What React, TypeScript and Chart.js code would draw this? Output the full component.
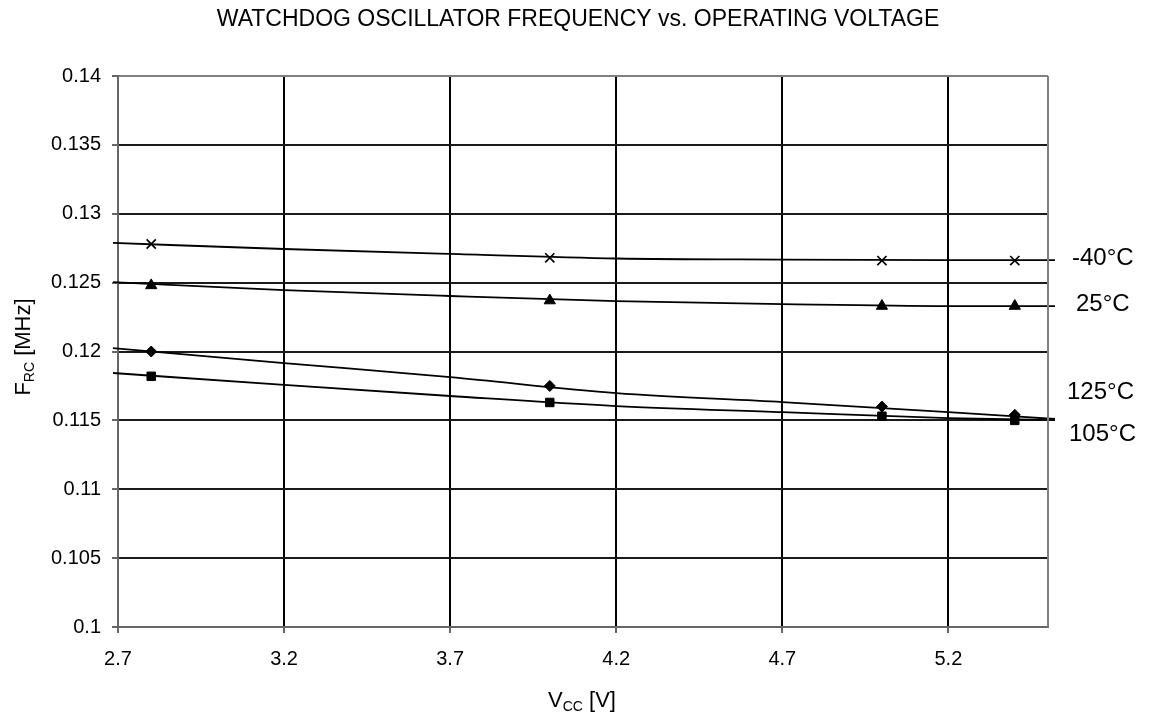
import React, { useEffect, useRef } from "react";
import { Chart, registerables } from "chart.js";

Chart.register(...registerables);

const titleText = "WATCHDOG OSCILLATOR FREQUENCY vs. OPERATING VOLTAGE";
const seriesNames = ["-40°C", "25°C", "125°C", "105°C"];

const xValues = [2.8, 4.0, 5.0, 5.4];
const fM40 = [0.1278, 0.1268, 0.1266, 0.1266];
const f25 = [0.1248, 0.1237, 0.1233, 0.1233];
const f125 = [0.12, 0.1175, 0.116, 0.1154];
const f105 = [0.1182, 0.1163, 0.1153, 0.115];

const trendX = [2.685, 3.2, 3.7, 4.2, 4.7, 5.2, 5.521];
const trendM40 = [0.12788, 0.12744, 0.12708, 0.12675, 0.12667, 0.12664, 0.12664];
const trend25 = [0.12504, 0.12446, 0.12403, 0.12366, 0.12344, 0.1233, 0.1233];
const trend125 = [0.12025, 0.11916, 0.11814, 0.11698, 0.11633, 0.1156, 0.1151];
const trend105 = [0.11844, 0.11757, 0.11677, 0.11604, 0.1156, 0.11517, 0.11502];

const xTicks = [2.7, 3.2, 3.7, 4.2, 4.7, 5.2];
const xTickLabels = ["2.7", "3.2", "3.7", "4.2", "4.7", "5.2"];
const yTicks = [0.1, 0.105, 0.11, 0.115, 0.12, 0.125, 0.13, 0.135, 0.14];
const yTickLabels = ["0.1", "0.105", "0.11", "0.115", "0.12", "0.125", "0.13", "0.135", "0.14"];

const FONT = "'Liberation Sans', Arial, Helvetica, sans-serif";

const toPts = (xs: number[], ys: number[]) => xs.map((x, i) => ({ x, y: ys[i] }));

const labelPos = [
  { x: 1072, y: 258 },
  { x: 1076, y: 304 },
  { x: 1067, y: 392 },
  { x: 1069, y: 434 },
];

const textPlugin = {
  id: "textPlugin",
  afterDraw(chart: any) {
    const ctx = chart.ctx as CanvasRenderingContext2D;
    const area = chart.chartArea;
    ctx.save();
    ctx.strokeStyle = "#808080";
    ctx.lineWidth = 2;
    ctx.beginPath();
    ctx.moveTo(area.right, area.top);
    ctx.lineTo(area.right, area.bottom);
    ctx.stroke();

    ctx.fillStyle = "#000";
    ctx.textBaseline = "middle";
    ctx.font = `23px ${FONT}`;
    ctx.textAlign = "center";
    ctx.fillText(titleText, 578, 20);

    ctx.font = `24px ${FONT}`;
    ctx.textAlign = "left";
    seriesNames.forEach((n, i) => ctx.fillText(n, labelPos[i].x, labelPos[i].y));

    const drawSub = (main: string, sub: string, rest: string, cx: number, cy: number) => {
      ctx.textAlign = "left";
      ctx.font = `22px ${FONT}`;
      const w1 = ctx.measureText(main).width;
      const w3 = ctx.measureText(rest).width;
      ctx.font = `14px ${FONT}`;
      const w2 = ctx.measureText(sub).width;
      const total = w1 + w2 + w3;
      let x = cx - total / 2;
      ctx.font = `22px ${FONT}`;
      ctx.fillText(main, x, cy);
      x += w1;
      ctx.font = `14px ${FONT}`;
      ctx.fillText(sub, x, cy + 6);
      x += w2;
      ctx.font = `22px ${FONT}`;
      ctx.fillText(rest, x, cy);
    };
    drawSub("V", "CC", " [V]", 582, 701);

    ctx.save();
    ctx.translate(24, 347);
    ctx.rotate(-Math.PI / 2);
    drawSub("F", "RC", " [MHz]", 0, 0);
    ctx.restore();

    ctx.restore();
  },
};

export default function App() {
  const ref = useRef<HTMLCanvasElement | null>(null);
  useEffect(() => {
    if (!ref.current) return;
    const markerBase = {
      showLine: false,
      borderColor: "#000",
      backgroundColor: "#000",
      pointBackgroundColor: "#000",
      pointBorderColor: "#000",
    };
    const trendBase = {
      showLine: true,
      borderColor: "#000",
      borderWidth: 1.8,
      pointRadius: 0,
      cubicInterpolationMode: "monotone" as const,
      clip: false as any,
    };
    const chart = new Chart(ref.current, {
      type: "scatter",
      data: {
        datasets: [
          { ...trendBase, label: "t-40", data: toPts(trendX, trendM40) },
          { ...trendBase, label: "t25", data: toPts(trendX, trend25) },
          { ...trendBase, label: "t125", data: toPts(trendX, trend125) },
          { ...trendBase, label: "t105", data: toPts(trendX, trend105) },
          { ...markerBase, label: seriesNames[0], data: toPts(xValues, fM40), pointStyle: "crossRot", pointRadius: 6.5, pointBorderWidth: 1.7 },
          { ...markerBase, label: seriesNames[1], data: toPts(xValues, f25), pointStyle: "triangle", pointRadius: 6.5, pointBorderWidth: 1 },
          { ...markerBase, label: seriesNames[2], data: toPts(xValues, f125), pointStyle: "rectRot", pointRadius: 5.5, pointBorderWidth: 1 },
          { ...markerBase, label: seriesNames[3], data: toPts(xValues, f105), pointStyle: "rect", pointRadius: 6, pointBorderWidth: 1 },
        ] as any,
      },
      options: {
        animation: false,
        responsive: false,
        layout: { padding: { top: 76, right: 107, bottom: 0, left: 0 } },
        plugins: {
          legend: { display: false },
          title: { display: false },
          tooltip: { enabled: false },
        },
        scales: {
          x: {
            type: "linear",
            min: 2.7,
            max: 5.5,
            afterBuildTicks: (s: any) => {
              s.ticks = xTicks.map((v) => ({ value: v }));
            },
            afterFit: (s: any) => {
              s.height = 90;
            },
            ticks: {
              callback: (_v: any, i: number) => xTickLabels[i],
              font: { family: FONT, size: 20 },
              color: "#000",
              padding: 14,
              maxRotation: 0,
              autoSkip: false,
            },
            grid: {
              color: (c: any) => (c.index === 0 ? "#666" : "#000"),
              lineWidth: 2,
              tickLength: 6,
              tickColor: "#666",
            },
            border: { color: "#666", width: 2 },
          },
          y: {
            type: "linear",
            min: 0.1,
            max: 0.14,
            afterBuildTicks: (s: any) => {
              s.ticks = yTicks.map((v) => ({ value: v }));
            },
            afterFit: (s: any) => {
              s.width = 118;
            },
            ticks: {
              callback: (_v: any, i: number) => yTickLabels[i],
              font: { family: FONT, size: 20 },
              color: "#000",
              padding: 11,
              autoSkip: false,
            },
            grid: {
              color: (c: any) => (c.index === yTicks.length - 1 || c.index === 0 ? "#808080" : "#1a1a1a"),
              lineWidth: 2,
              tickLength: 6,
              tickColor: "#666",
            },
            border: { color: "#666", width: 2 },
          },
        },
      },
      plugins: [textPlugin],
    });
    return () => chart.destroy();
  }, []);

  return (
    <div style={{ position: "fixed", left: 0, top: 0, width: 1155, height: 717, background: "#fff" }}>
      <canvas ref={ref} width={1155} height={717} style={{ display: "block" }} />
    </div>
  );
}
